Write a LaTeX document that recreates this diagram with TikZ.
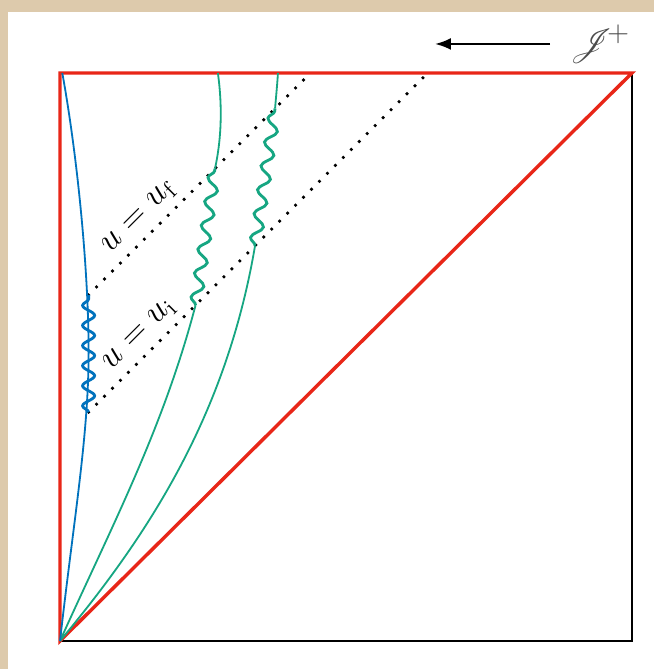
\documentclass[tikz,border=0pt]{standalone}
\usepackage{amsmath, amssymb}
\usepackage{mathrsfs}
\usetikzlibrary{arrows.meta, decorations.pathmorphing}

\definecolor{penrosered}{RGB}{232,38,24}
\definecolor{obsblue}{RGB}{0,114,189}
\definecolor{shellgreen}{RGB}{22,166,130}
\definecolor{paper}{RGB}{221,202,172}

\begin{document}
\begin{tikzpicture}[
  boundary/.style={penrosered, line width=1.7pt, line join=miter},
  edgeline/.style={black, line width=1pt},
  worldline/.style={line width=0.9pt},
  wiggly/.style={line width=1.4pt, decorate, decoration={snake, amplitude=2.8pt, segment length=12pt}},
  nullray/.style={line width=1.8pt, dash pattern=on 0pt off 5.6pt, line cap=round},
  lbl/.style={sloped, above, font=\LARGE},
  ->, >=Latex
]
  % page and paper
  \useasboundingbox (-1.049,-0.49) rectangle (10.385,11.206);
  \fill[paper] (-1.049,-0.49) rectangle (10.385,11.206);
  \fill[white] (-0.909,-0.49) rectangle (10.385,10.997);

  \coordinate (O) at (0,0);
  \coordinate (R) at (10,0);
  \coordinate (T) at (10,9.93);
  \coordinate (L) at (0,9.93);

  \draw[edgeline, -] (O) -- (R) -- (T);
  \draw[boundary, -] (O) -- (L) -- (T) -- cycle;

  % null rays u = const
  \coordinate (bi) at (0.5,4.0);
  \coordinate (bf) at (0.5,6.05);
  \coordinate (ai) at (6.43,9.93);
  \coordinate (af) at (4.38,9.93);
  \draw[nullray, -] (bf) -- node[lbl, pos=0.29] (uf) {$u=u_{\mathrm{f}}$} (af);
  \draw[nullray, -] (bi) -- node[lbl, pos=0.19] (ui) {$u=u_{\mathrm{i}}$} (ai);

  % shells
  \coordinate (g1i) at (2.37,5.87);
  \coordinate (g1f) at (2.71,8.26);
  \coordinate (g1t) at (2.76,9.93);
  \coordinate (g2i) at (3.41,6.91);
  \coordinate (g2f) at (3.76,9.31);
  \coordinate (g2t) at (3.81,9.93);

  \draw[worldline, shellgreen, -] (O) .. controls (0.9,2) and (1.8,3.7) .. (g1i);
  \draw[wiggly, shellgreen, -] (g1i) -- (g1f);
  \draw[worldline, shellgreen, -] (g1f) .. controls (2.85,8.9) and (2.82,9.5) .. (g1t);
  \draw[worldline, shellgreen, -] (O) .. controls (1.5,1.8) and (2.9,3.9) .. (g2i);
  \draw[wiggly, shellgreen, -] (g2i) -- (g2f);
  \draw[worldline, shellgreen, -] (g2f) .. controls (3.78,9.55) and (3.8,9.75) .. (g2t);

  % observer
  \draw[worldline, obsblue, -] (O) .. controls (0.25,2.2) and (0.5,3.6) .. (0.5,5.05)
        .. controls (0.5,6.5) and (0.3,8.5) .. (0.04,9.93);
  \draw[wiggly, obsblue, -, decoration={amplitude=3pt, segment length=10pt}] (bi) -- (bf);

  % scri+
  \node[text=black!70, font=\LARGE] (scri) at (9.44,10.437) {$\mathscr{J}^{\hspace{-3pt}\text{\Large $+$}}$};
  \coordinate (arrhead) at (6.556,10.437);
  \draw[line width=1.1pt, shorten <=0.22cm] (scri) -- (arrhead);
\end{tikzpicture}
\end{document}
